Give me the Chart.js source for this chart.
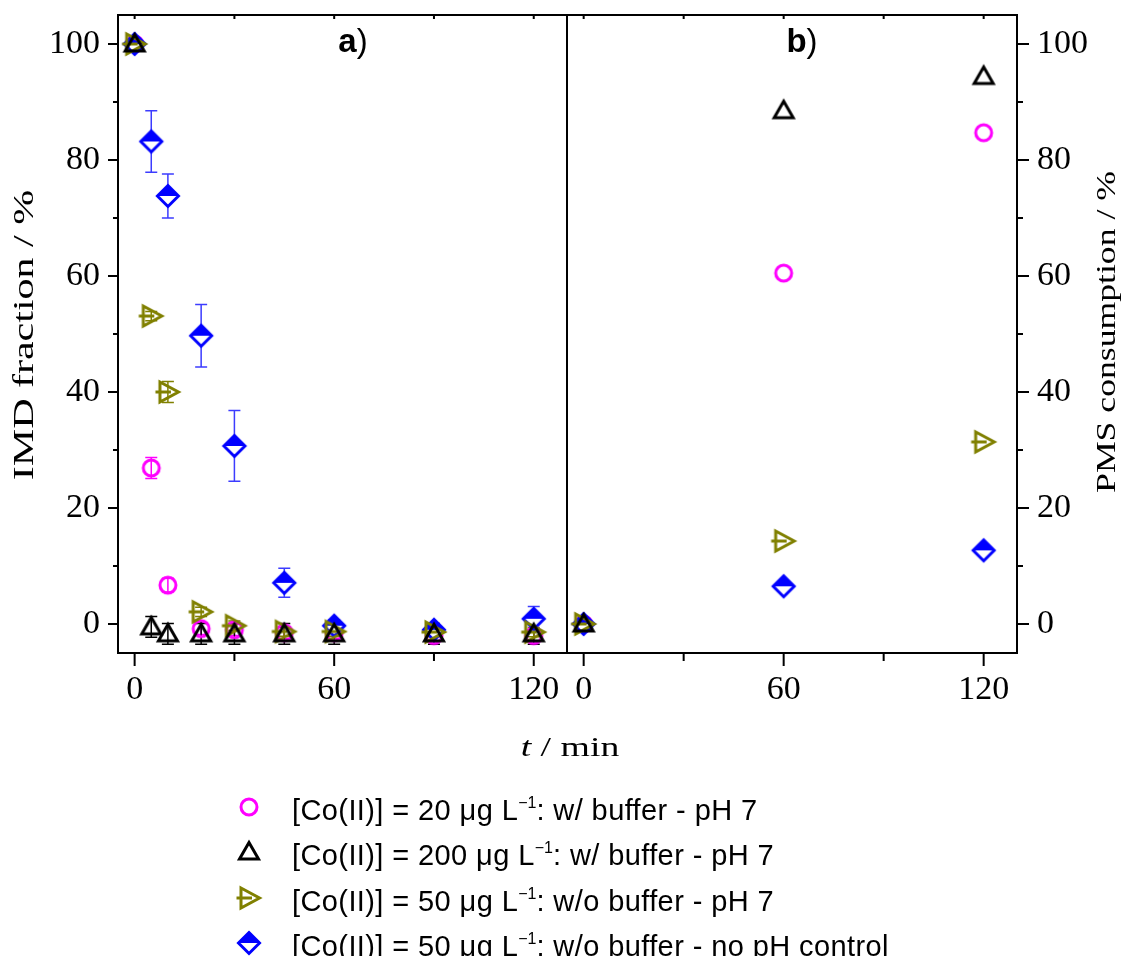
<!DOCTYPE html>
<html>
<head>
<meta charset="utf-8">
<script src="https://cdn.jsdelivr.net/npm/chart.js@4/dist/chart.umd.min.js"></script>
<style>
  html, body { margin: 0; padding: 0; background: #fff; overflow: hidden; }
  #wrap { position: relative; width: 1130px; height: 956px; }
  #wrap canvas.plot { position: absolute; left: 0; top: 0; }
  .lg { position: absolute; left: 292px; height: 36px; line-height: 36px; white-space: nowrap;
        font-family: "Liberation Sans", Arial, sans-serif; font-size: 29px; letter-spacing: 0.4px; color: #000; }
  .lg sup { font-size: 16px; letter-spacing: 0; vertical-align: baseline; position: relative; top: -12px; line-height: 0; }
</style>
</head>
<body>
<div id="wrap">
  <canvas id="panelA" class="plot" width="1130" height="956"></canvas>
  <canvas id="panelB" class="plot" width="1130" height="956"></canvas>
  <div id="legend"></div>
</div>
<script>
// panel a: IMD fraction vs time
const timeA = [0, 5, 10, 20, 30, 45, 60, 90, 120];
const imdCo20 = [100, 26.9, 6.7, -0.8, -1.0, -1.5, -1.5, -2.0, -2.0];
const imdCo200 = [100, -0.5, -1.7, -1.7, -1.7, -1.7, -1.7, -1.7, -1.7];
const imdCo50 = [100, 53.1, 40.0, 2.1, -0.3, -1.3, -1.3, -1.4, -1.4];
const imdCo50NoPh = [100, 83.2, 73.8, 49.7, 30.7, 7.1, -0.3, -1.0, 0.9];

const errCo20 = [0, 1.8, 1.2, 1.0, 1.0, 1.0, 1.0, 1.0, 1.0];
const errCo200 = [0, 1.8, 1.8, 1.8, 1.8, 1.8, 1.8, 1.8, 1.8];
const errCo50 = [0, 0.8, 1.8, 0.8, 0.8, 0.8, 0.8, 0.8, 0.8];
const errCo50NoPh = [0, 5.3, 3.8, 5.4, 6.1, 2.5, 1.0, 1.0, 2.1];

// panel b: PMS consumption vs time
const timeB = [0, 60, 120];
const pmsCo20 = [0, 60.5, 84.7];
const pmsCo200 = [0, 88.5, 94.4];
const pmsCo50 = [0, 14.3, 31.4];
const pmsCo50NoPh = [0, 6.5, 12.7];

const xTickValues = [0, 30, 60, 90, 120];
const xTickLabels = ['0', '', '60', '', '120'];
const yTickValues = [0, 10, 20, 30, 40, 50, 60, 70, 80, 90, 100];
const yTickLabels = ['0', '', '20', '', '40', '', '60', '', '80', '', '100'];

const concentrations = ['20', '200', '50', '50'];
const conditions = ['w/ buffer - pH 7', 'w/ buffer - pH 7', 'w/o buffer - pH 7', 'w/o buffer - no pH control'];
const seriesColors = ['#ff00ff', '#000000', '#808000', '#0000ff'];
const errorColors = ['#ff00ff', '#000000', '#808000', '#3c3cff'];
const seriesKinds = ['circle', 'triangle', 'rtriangle', 'diamond'];

function makeMarker(kind, color) {
    const c = document.createElement('canvas');
    c.width = 32; c.height = 32;
    const g = c.getContext('2d');
    g.translate(16, 16);
    g.lineWidth = 3;
    g.strokeStyle = color;
    g.fillStyle = color;
    g.lineJoin = 'miter';
    g.beginPath();
    if (kind === 'circle') {
        g.arc(0, 0, 8, 0, Math.PI * 2);
        g.stroke();
    } else if (kind === 'triangle') {
        g.moveTo(0, -9.5);
        g.lineTo(9.5, 7);
        g.lineTo(-9.5, 7);
        g.closePath();
        g.stroke();
    } else if (kind === 'rtriangle') {
        g.moveTo(-8, -10);
        g.lineTo(10.5, 0);
        g.lineTo(-8, 10);
        g.closePath();
        g.stroke();
        g.beginPath();
        g.moveTo(-12.5, 0);
        g.lineTo(3, 0);
        g.stroke();
    } else {
        // diamond, top half filled
        g.moveTo(0, -10.5); g.lineTo(10.5, 0); g.lineTo(-10.5, 0); g.closePath();
        g.fill();
        g.beginPath();
        g.moveTo(10.5, 0); g.lineTo(0, 10.5); g.lineTo(-10.5, 0); g.closePath();
        g.fillStyle = '#fff';
        g.fill();
        g.beginPath();
        g.moveTo(0, -10.5); g.lineTo(10.5, 0); g.lineTo(0, 10.5); g.lineTo(-10.5, 0); g.closePath();
        g.stroke();
    }
    return c;
}

const markers = seriesKinds.map((k, i) => makeMarker(k, seriesColors[i]));

function toPoints(xs, ys) {
    return xs.map((x, i) => ({x: x, y: ys[i]}));
}

// draw order: black on top, then olive, blue, magenta
const drawOrder = [3, 0, 1, 2];

function buildDatasets(xs, seriesList, errList) {
    return seriesList.map((ys, i) => ({
        data: toPoints(xs, ys),
        errors: errList ? errList[i] : null,
        errorColor: errorColors[i],
        pointStyle: markers[i],
        pointRadius: 11,
        order: drawOrder[i],
        showLine: false
    }));
}

function drawRich(ctx, item) {
    ctx.save();
    ctx.translate(item.x, item.y);
    if (item.rot) ctx.rotate(item.rot);
    ctx.scale(item.sx || 1, 1);
    ctx.fillStyle = '#000';
    ctx.textBaseline = 'alphabetic';
    ctx.textAlign = 'left';
    let total = 0;
    const widths = item.parts.map(p => { ctx.font = p[1]; const w = ctx.measureText(p[0]).width; total += w; return w; });
    let cx = -total / 2;
    item.parts.forEach((p, i) => {
        ctx.font = p[1];
        ctx.fillText(p[0], cx, 0);
        cx += widths[i];
    });
    ctx.restore();
}

const errorBars = {
    id: 'errorBars',
    beforeDatasetsDraw(chart) {
        const {ctx, scales: {x, y}} = chart;
        chart.data.datasets.forEach(ds => {
            if (!ds.errors) return;
            ctx.save();
            ctx.strokeStyle = ds.errorColor;
            ctx.lineWidth = 1.5;
            ds.data.forEach((p, i) => {
                const e = ds.errors[i];
                if (!e) return;
                const px = x.getPixelForValue(p.x);
                const top = y.getPixelForValue(p.y + e);
                const bot = y.getPixelForValue(p.y - e);
                ctx.beginPath();
                ctx.moveTo(px, top); ctx.lineTo(px, bot);
                ctx.moveTo(px - 6, top); ctx.lineTo(px + 6, top);
                ctx.moveTo(px - 6, bot); ctx.lineTo(px + 6, bot);
                ctx.stroke();
            });
            ctx.restore();
        });
    }
};

const frame = {
    id: 'frame',
    afterDraw(chart, args, opts) {
        const {ctx, chartArea: a, scales: {x, y}} = chart;
        ctx.save();
        ctx.strokeStyle = '#000';
        ctx.lineWidth = 2;
        ctx.strokeRect(a.left, a.top, a.right - a.left, a.bottom - a.top);
        ctx.beginPath();
        x.ticks.forEach((t, i) => {
            const px = x.getPixelForValue(t.value);
            const len = xTickLabels[i] ? 13 : 8;
            ctx.moveTo(px, a.bottom); ctx.lineTo(px, a.bottom + len);
            ctx.moveTo(px, a.top); ctx.lineTo(px, a.top + 4);
        });
        y.ticks.forEach((t, i) => {
            const py = y.getPixelForValue(t.value);
            const major = yTickLabels[i] !== '';
            if (opts.side === 'left') {
                ctx.moveTo(a.left, py); ctx.lineTo(a.left - (major ? 10 : 5), py);
            } else {
                ctx.moveTo(a.right, py); ctx.lineTo(a.right + (major ? 12 : 6), py);
            }
        });
        ctx.stroke();
        ctx.restore();
        (opts.texts || []).forEach(item => drawRich(ctx, item));
    }
};

const tickFont = {family: '"Liberation Serif", "Times New Roman", serif', size: 34};

function makeScales(side, yWidth, tickLen) {
    return {
        x: {
            type: 'linear', position: 'bottom', min: -5, max: 130,
            afterBuildTicks: s => { s.ticks = xTickValues.map(v => ({value: v})); },
            afterFit: s => { s.height = 303; s.paddingLeft = 0; s.paddingRight = 0; },
            grid: {display: true, drawOnChartArea: false, drawTicks: true, tickLength: 12, color: 'rgba(0,0,0,0)'},
            border: {display: false},
            ticks: {padding: 5, font: tickFont, color: '#000', maxRotation: 0, autoSkip: false,
                    callback: (v, i) => xTickLabels[i]}
        },
        y: {
            type: 'linear', position: side, min: -5, max: 105,
            afterBuildTicks: s => { s.ticks = yTickValues.map(v => ({value: v})); },
            afterFit: s => { s.width = yWidth; s.paddingTop = 0; s.paddingBottom = 0; },
            grid: {display: true, drawOnChartArea: false, drawTicks: true, tickLength: tickLen, color: 'rgba(0,0,0,0)'},
            border: {display: false},
            ticks: {padding: 8, font: tickFont, color: '#000', autoSkip: false,
                    callback: (v, i) => yTickLabels[i]}
        }
    };
}

const serif = '"Liberation Serif", "Times New Roman", serif';
const sans = '"Liberation Sans", Arial, sans-serif';

new Chart(document.getElementById('panelA'), {
    type: 'scatter',
    data: {datasets: buildDatasets(timeA, [imdCo20, imdCo200, imdCo50, imdCo50NoPh],
                                   [errCo20, errCo200, errCo50, errCo50NoPh])},
    options: {
        responsive: false, animation: false, devicePixelRatio: 1,
        layout: {padding: {left: 0, right: 563, top: 15, bottom: 0}},
        scales: makeScales('left', 118, 10),
        plugins: {
            legend: {display: false}, tooltip: {enabled: false},
            frame: {
                side: 'left',
                texts: [
                    {parts: [['a', 'bold 33px ' + sans], [')', '33px ' + sans]], x: 353, y: 52},
                    {parts: [['IMD fraction / %', '30px ' + serif]], x: 33, y: 335, rot: -Math.PI / 2, sx: 1.4},
                    {parts: [['t', 'italic 28px ' + serif], [' / min', '28px ' + serif]], x: 570, y: 756, sx: 1.35}
                ]
            }
        }
    },
    plugins: [errorBars, frame]
});

new Chart(document.getElementById('panelB'), {
    type: 'scatter',
    data: {datasets: buildDatasets(timeB, [pmsCo20, pmsCo200, pmsCo50, pmsCo50NoPh], null)},
    options: {
        responsive: false, animation: false, devicePixelRatio: 1,
        layout: {padding: {left: 567, right: 0, top: 15, bottom: 0}},
        scales: makeScales('right', 113, 12),
        plugins: {
            legend: {display: false}, tooltip: {enabled: false},
            frame: {
                side: 'right',
                texts: [
                    {parts: [['b', 'bold 33px ' + sans], [')', '33px ' + sans]], x: 802, y: 52},
                    {parts: [['PMS consumption / %', '27px ' + serif]], x: 1115, y: 332, rot: -Math.PI / 2, sx: 1.32}
                ]
            }
        }
    },
    plugins: [errorBars, frame]
});

// legend
const legendBox = document.getElementById('legend');
const legendTop = 810;
const legendGap = 45.3;
seriesKinds.forEach((kind, i) => {
    const rowY = legendTop + i * legendGap;
    const mk = makeMarker(kind, seriesColors[i]);
    mk.style.cssText = `position:absolute;left:${249 - 16}px;top:${Math.round(rowY - 3 - 16)}px`;
    legendBox.appendChild(mk);
    const row = document.createElement('div');
    row.className = 'lg';
    row.style.top = Math.round(rowY - 18) + 'px';
    row.innerHTML = `[Co(II)] = ${concentrations[i]} μg L<sup>−1</sup>: ${conditions[i]}`;
    legendBox.appendChild(row);
});
</script>
</body>
</html>
